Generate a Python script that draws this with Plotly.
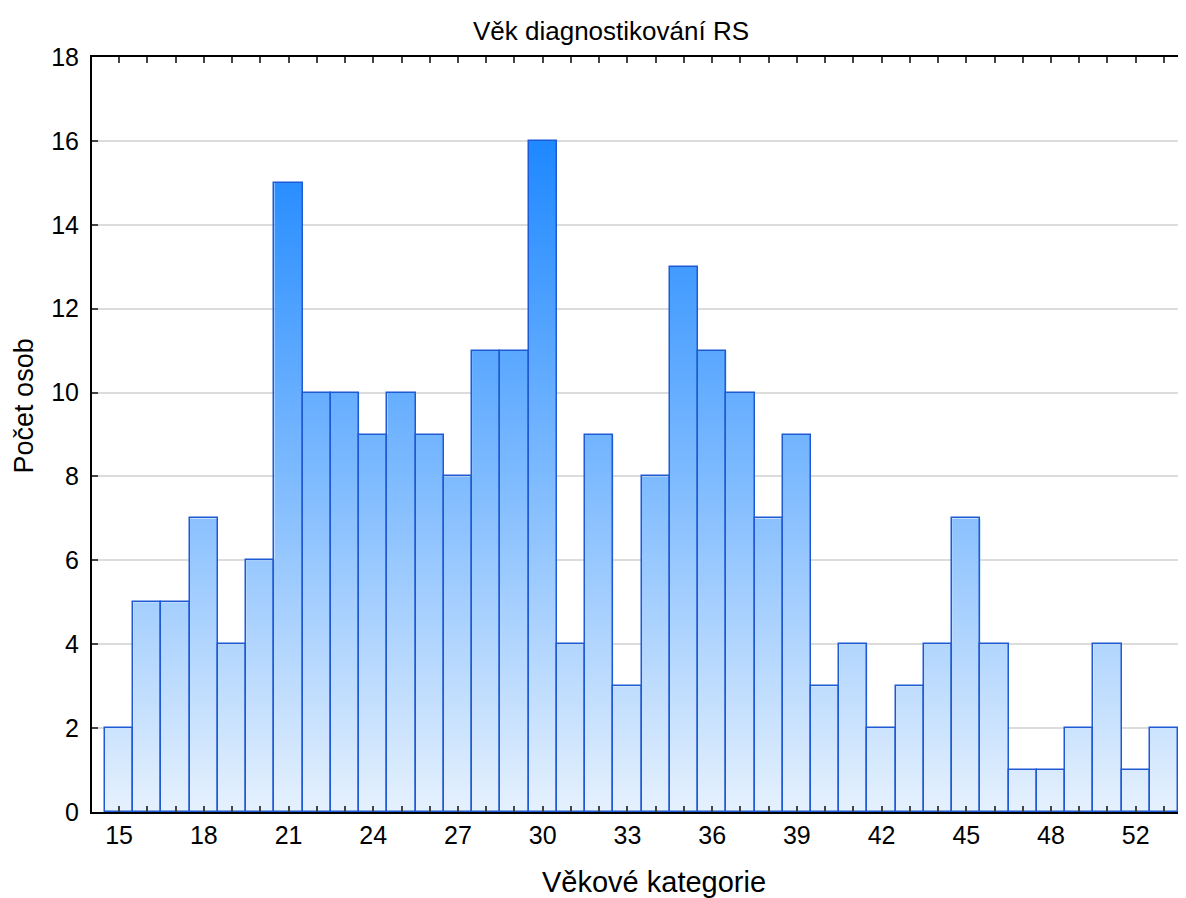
'''
    Věk diagnostikování RS - histogram
'''
import plotly.graph_objects as go

# počet osob v každé věkové kategorii (jeden sloupec = jedna kategorie)
counts = [2, 5, 5, 7, 4, 6, 15, 10, 10, 9, 10, 9, 8, 11, 11, 16, 4, 9, 3, 8,
          13, 11, 10, 7, 9, 3, 4, 2, 3, 4, 7, 4, 1, 1, 2, 4, 1, 2]
# popisky osy x (každý třetí sloupec)
x_labels = ["15", "18", "21", "24", "27", "30", "33", "36", "39", "42", "45", "48", "52"]
y_ticks = [0, 2, 4, 6, 8, 10, 12, 14, 16, 18]

n = len(counts)
idx = list(range(n))
tick_text = [""] * n
for k, lab in enumerate(x_labels):
    tick_text[k * 3] = lab

x_range = [-0.96, n - 0.22]
y_range = [0, 18]

fig = go.Figure()

# gradientní výplň pod schodovitým obrysem
edges = [i - 0.5 for i in idx] + [n - 0.5]
fig.add_trace(go.Scatter(
    x=edges,
    y=counts + [counts[-1]],
    mode='lines',
    line=dict(shape='hv', width=0),
    fill='tozeroy',
    fillgradient=dict(
        type='vertical',
        colorscale=[[0, '#E6F1FD'], [0.5, '#7DBAFF'], [1, '#1E88FF']],
        start=0,
        stop=16
    ),
    hoverinfo='skip',
    showlegend=False
))

# sloupce s obrysem (na překryvné ose, aby byly nad výplní)
fig.add_trace(go.Bar(
    x=idx,
    y=counts,
    width=1,
    xaxis='x2',
    yaxis='y2',
    marker=dict(color='rgba(0,0,0,0)', line=dict(color='#1F5AD4', width=1.5)),
    showlegend=False
))

# popisky os jako anotace (pozice podle předlohy)
fig.add_annotation(text='Věkové kategorie', xref='paper', yref='paper',
                   x=0.5133, y=-0.093, xanchor='center', yanchor='middle',
                   showarrow=False, font=dict(size=29))
fig.add_annotation(text='Počet osob', xref='paper', yref='paper', textangle=-90,
                   x=-0.0625, y=0.538, xanchor='center', yanchor='middle',
                   xshift=0, showarrow=False, font=dict(size=27))

fig.update_layout(
    template="simple_white",
    width=1178,
    height=890,
    margin=dict(l=84, r=0, t=49, b=86),
    bargap=0,
    font=dict(family='Liberation Sans, Arial, sans-serif', size=26, color='black'),
    title=dict(
        text='Věk diagnostikování RS',
        x=(611 - 8) / 1178, xanchor='center', xref='container',
        y=1 - 23 / 890, yanchor='middle', yref='container',
        font=dict(size=26)
    ),
    xaxis=dict(
        range=x_range,
        tickvals=idx,
        ticktext=tick_text,
        tickfont=dict(size=25),
        ticks='inside',
        ticklen=6,
        tickwidth=1.5,
        mirror='ticks',
        showline=True,
        linewidth=2,
        linecolor='black',
        showgrid=False,
        zeroline=False
    ),
    yaxis=dict(
        range=y_range,
        tickvals=y_ticks,
        tickfont=dict(size=25),
        ticklabelstandoff=6,
        ticks='inside',
        ticklen=6,
        tickwidth=1.5,
        showline=True,
        linewidth=2,
        linecolor='black',
        showgrid=True,
        gridcolor='#DCDCDC',
        gridwidth=2,
        zeroline=False
    ),
    xaxis2=dict(range=x_range, overlaying='x', visible=False),
    yaxis2=dict(range=y_range, overlaying='y', visible=False)
)

fig.write_html("out.html")
